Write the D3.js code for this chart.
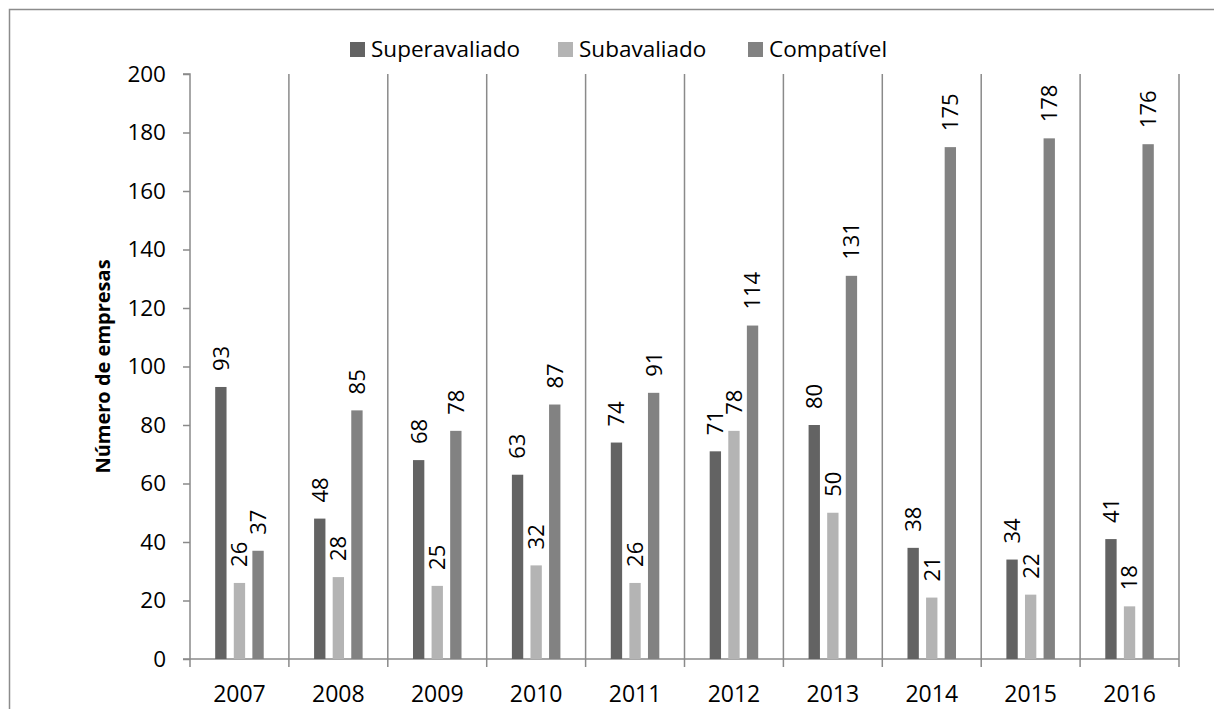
<!DOCTYPE html>
<html>
<head>
<meta charset="utf-8">
<script src="https://cdn.jsdelivr.net/npm/d3@7"></script>
<style>
  html, body { margin: 0; padding: 0; background: #fff; }
  svg { display: block; font-family: "Open Sans", "Noto Sans", sans-serif; }
</style>
</head>
<body>
<svg id="chart" width="1214" height="709"></svg>
<script>
const years = ["2007","2008","2009","2010","2011","2012","2013","2014","2015","2016"];
const seriesNames = ["Superavaliado","Subavaliado","Compatível"];
const superavaliado = [93,48,68,63,74,71,80,38,34,41];
const subavaliado   = [26,28,25,32,26,78,50,21,22,18];
const compativel    = [37,85,78,87,91,114,131,175,178,176];
const yTicks = [0,20,40,60,80,100,120,140,160,180,200];
const colors = ["#636363","#b4b4b4","#828282"];

(function () {
const seriesValues = [superavaliado, subavaliado, compativel];
const svg = d3.select("#chart");
const W = 1214, H = 709;
const gridColor = "#8a8a8a";

// outer chart border
svg.append("rect").attr("x", 9.5).attr("y", 9.5).attr("width", W + 20).attr("height", H + 20)
  .attr("fill", "none").attr("stroke", "#8c8c8c").attr("stroke-width", 1.5);

const pLeft = 190, pRight = 1179, pTop = 74, pBottom = 659;
const x = d3.scaleBand().domain(years).range([pLeft, pRight]).padding(0);
const y = d3.scaleLinear().domain([0, 200]).range([pBottom, pTop]);
const x1 = d3.scaleBand().domain(seriesNames).range([0, x.bandwidth()])
  .paddingInner(0.39).paddingOuter(1.355);

// vertical gridlines at category boundaries
const bounds = years.map(d => x(d)).concat([pRight]);
svg.append("g").selectAll("line").data(bounds.slice(1)).join("line")
  .attr("x1", d => d).attr("x2", d => d).attr("y1", pTop).attr("y2", pBottom)
  .attr("stroke", gridColor).attr("stroke-width", 1.5);

// y axis
const yAxis = d3.axisLeft(y).tickValues(yTicks).tickSize(7).tickPadding(17);
const gy = svg.append("g").attr("transform", `translate(${pLeft},0)`).call(yAxis);
gy.select(".domain").attr("stroke", gridColor).attr("stroke-width", 1.5).attr("d", `M-7,${pTop}H0V${pBottom}`);
gy.selectAll(".tick line").attr("stroke", gridColor).attr("stroke-width", 1.5);
gy.selectAll(".tick text").attr("fill", "#000").style("font-size", "22.5px")
  .style("font-family", "'Open Sans', sans-serif");

// x axis
const gx = svg.append("g").attr("transform", `translate(0,${pBottom})`);
gx.append("line").attr("x1", pLeft - 7).attr("x2", pRight).attr("y1", 0).attr("y2", 0)
  .attr("stroke", gridColor).attr("stroke-width", 1.5);
gx.selectAll("line.t").data(bounds).join("line").attr("class", "t")
  .attr("x1", d => d).attr("x2", d => d).attr("y1", 0).attr("y2", 8)
  .attr("stroke", gridColor).attr("stroke-width", 1.5);
gx.selectAll("text").data(years).join("text")
  .attr("x", d => x(d) + x.bandwidth() / 2).attr("y", 43)
  .attr("text-anchor", "middle").attr("fill", "#000").style("font-size", "23px")
  .text(d => d);

// bars
const groups = svg.append("g").selectAll("g").data(seriesNames).join("g")
  .attr("fill", (d, i) => colors[i]);
groups.selectAll("rect").data((s, si) => years.map((yr, i) => ({ yr, s, v: seriesValues[si][i] })))
  .join("rect")
  .attr("x", d => x(d.yr) + x1(d.s))
  .attr("width", x1.bandwidth())
  .attr("y", d => y(d.v))
  .attr("height", d => y(0) - y(d.v));

// data labels
const labels = svg.append("g");
seriesNames.forEach((s, si) => {
  years.forEach((yr, i) => {
    const v = seriesValues[si][i];
    const cx = x(yr) + x1(s) + x1.bandwidth() / 2;
    const cy = y(v) - 16;
    labels.append("text")
      .attr("transform", `translate(${cx},${cy}) rotate(-90)`)
      .attr("dy", "0.36em")
      .attr("text-anchor", "start").attr("fill", "#000").style("font-size", "22px")
      .text(v);
  });
});

// y axis title
svg.append("text")
  .attr("transform", `translate(103,${(pTop + pBottom) / 2}) rotate(-90)`)
  .attr("dy", "0.36em").attr("text-anchor", "middle")
  .style("font-size", "20px").style("font-weight", "bold").attr("fill", "#000")
  .text("Número de empresas");

// legend
const legendX = [350, 558, 748];
const lg = svg.append("g");
seriesNames.forEach((s, i) => {
  lg.append("rect").attr("x", legendX[i]).attr("y", 42).attr("width", 15).attr("height", 15)
    .attr("fill", colors[i]);
  lg.append("text").attr("x", legendX[i] + 21).attr("y", 57)
    .attr("fill", "#000").style("font-size", "22.5px").text(s);
});
})();
</script>
</body>
</html>
